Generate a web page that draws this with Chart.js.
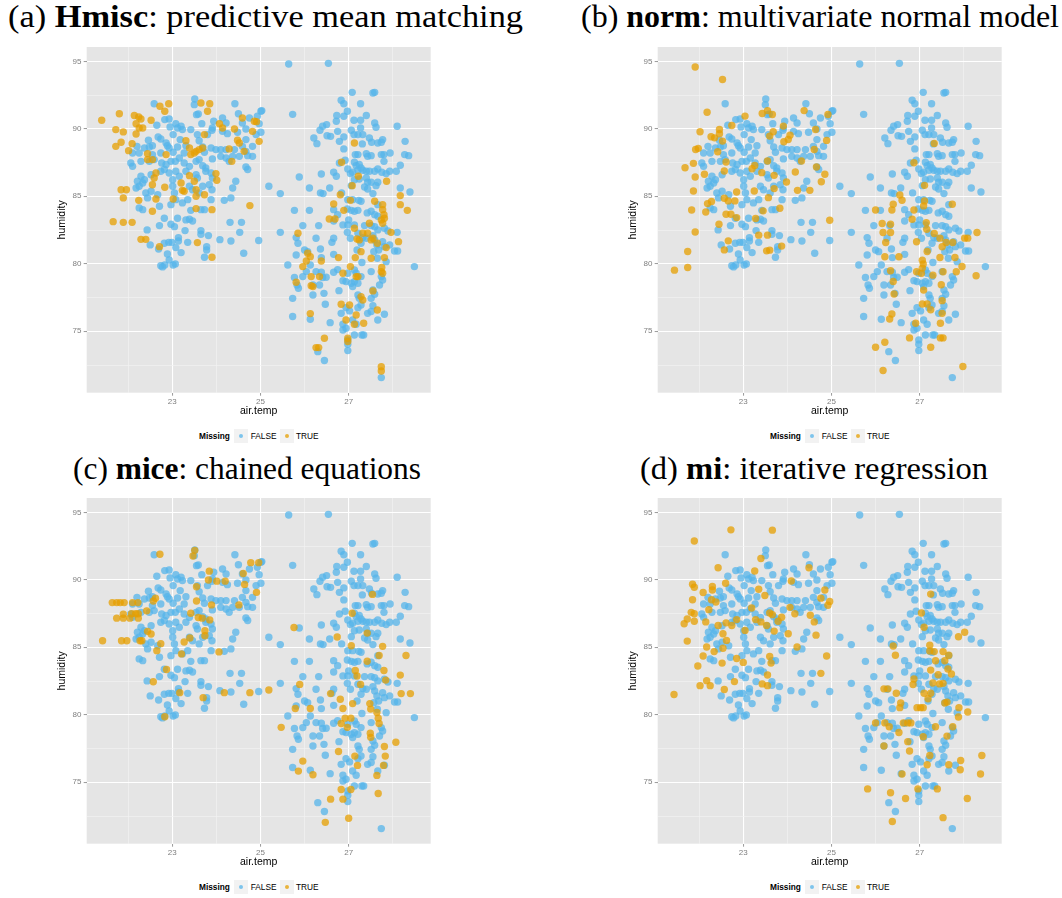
<!DOCTYPE html>
<html>
<head>
<meta charset="utf-8">
<script src="https://cdn.jsdelivr.net/npm/chart.js@4.4.0/dist/chart.umd.min.js"></script>
<style>
  body { margin: 0; background: #fff; width: 1062px; height: 898px; position: relative; overflow: hidden; }
  .title { position: absolute; font-family: "Liberation Serif", serif; font-size: 31px; line-height: 1; white-space: nowrap; color: #000; transform-origin: 0 50%; }
  .panel-canvas { position: absolute; }
  .lg { position: absolute; height: 14px; line-height: 14px; font-family: "Liberation Sans", Arial, sans-serif; font-size: 8.3px; color: #000; white-space: nowrap; }
  .lg-box { position: absolute; width: 14px; height: 14px; background: #F2F2F2; }
  .lg-dot { position: absolute; left: 4.8px; top: 4.8px; width: 4.4px; height: 4.4px; border-radius: 50%; }
</style>
</head>
<body>
<script>
// tick values (minor ones only get a faint grid line)
const xMajor = [23, 25, 27];
const xMinor = [22, 24, 26, 28];
const yMajor = [75, 80, 85, 90, 95];
const yMinor = [72.5, 77.5, 82.5, 87.5, 92.5];

const panelTitles = [
  ["(a) ", "Hmisc", ": predictive mean matching"],
  ["(b) ", "norm", ": multivariate normal model"],
  ["(c) ", "mice", ": chained equations"],
  ["(d) ", "mi", ": iterative regression"]
];

// observed rows (Missing = FALSE), [air.temp, humidity], same in every panel
const observed = [
  [22.59,91.86],[23.51,92.21],[23.50,91.79],[23.55,91.05],[23.59,91.10],[24.42,91.86],[24.50,91.12],[22.83,90.68],[22.93,90.73],[22.65,90.26],
  [23.08,90.38],[23.12,90.06],[23.20,90.19],[23.23,89.94],[22.95,90.14],[23.42,89.94],[23.67,90.38],[23.94,90.56],[23.91,90.06],[24.14,90.80],
  [24.22,90.43],[24.59,90.43],[24.75,90.80],[24.93,90.93],[25.01,91.30],[24.67,89.99],[24.97,90.38],
  [22.46,89.15],[22.68,89.40],[22.74,89.25],[23.02,89.57],[23.57,89.57],[23.61,89.12],[23.80,89.57],[23.90,89.89],[24.14,89.81],[24.25,89.64],
  [24.48,89.74],[24.67,89.20],[24.90,89.57],[25.01,89.74],
  [22.20,88.70],[22.37,88.58],[22.48,88.65],[22.55,88.75],[22.86,88.95],[22.89,88.75],[22.93,88.58],[23.12,88.65],[23.31,88.75],[23.18,89.20],
  [23.69,88.65],[23.88,88.58],[23.99,88.46],[24.10,88.46],[24.22,88.46],[24.41,88.46],[24.59,88.70],[24.67,88.33],[24.82,88.70],
  [22.10,88.21],[22.25,88.21],[22.55,88.09],[22.59,87.72],[22.48,87.59],[22.74,88.21],[23.02,88.26],[23.16,87.84],[23.27,88.21],[23.73,88.26],
  [23.61,87.72],[23.54,87.59],[23.91,87.77],[24.10,87.96],[24.22,87.84],[24.37,87.96],[24.52,87.96],[24.71,88.01],[24.82,87.96],
  [22.06,87.47],[22.10,87.22],[22.29,87.59],[22.76,87.47],[22.86,87.35],[22.97,87.59],[23.07,87.59],[23.27,87.47],[23.39,87.22],[23.69,87.27],
  [23.76,87.10],[24.29,87.59],[24.67,87.17],[24.71,86.98],
  [22.52,86.60],[22.29,86.48],[22.37,86.23],[22.21,86.11],[22.74,86.85],[22.82,86.98],[22.93,86.73],[23.08,86.85],[23.31,86.85],[23.54,86.60],
  [23.57,86.36],[23.76,86.85],[23.88,86.73],[23.91,86.36],[23.01,86.23],[23.16,86.48],
  [22.18,85.62],[22.25,85.74],[22.33,85.99],[22.52,85.37],[22.40,85.25],[22.44,84.88],[22.67,85.12],[23.01,85.74],[23.05,85.25],[23.08,84.75],
  [23.39,85.74],[23.46,85.49],[23.61,85.25],[23.69,85.74],[23.84,85.86],[23.90,85.49],[23.88,84.75],[24.37,85.62],[24.44,86.11],[24.18,84.70],
  [24.33,84.88],
  [22.25,84.14],[22.33,84.01],[22.71,84.26],[22.97,84.38],[23.23,84.51],[23.35,84.75],[23.65,84.01],[23.73,84.01],[23.42,83.96],
  [22.82,83.37],[23.12,83.37],[23.31,83.25],[23.39,83.30],[23.46,83.17],[22.97,82.93],[23.05,82.75],[22.71,82.83],[22.43,82.51],[23.29,82.46],
  [23.65,82.46],[23.65,82.19],[23.82,82.09],[24.31,83.07],[24.57,83.07],[24.53,82.33],[23.14,81.94],[23.14,81.69],[23.35,81.59],[24.08,81.79],
  [24.33,81.69],[24.96,81.72],[22.50,81.40],[22.82,81.52],[22.92,81.59],[22.99,81.59],[23.08,81.20],[23.20,80.83],[22.89,80.73],[22.69,81.10],
  [23.78,81.27],[23.78,81.02],[24.62,80.78],[23.73,80.48],[22.93,80.28],[22.74,79.86],[22.78,79.77],[22.83,79.91],[23.02,79.91],[23.07,79.99],
  [25.64,94.80],[26.54,94.85],[27.08,92.70],[27.55,92.65],[27.59,92.70],[27.27,91.86],[26.83,92.11],[26.89,91.86],[25.03,91.35],[25.73,91.07],
  [26.73,90.98],[26.89,90.93],[26.97,91.30],[27.40,90.98],[27.12,90.63],[27.27,90.63],[26.72,90.56],[26.50,90.31],[26.41,90.19],[26.35,89.89],
  [27.59,90.43],[27.62,90.11],[28.10,90.19],
  [26.21,89.32],[26.28,88.90],[26.51,89.49],[26.59,89.44],[26.75,89.81],[26.79,89.07],[26.89,89.40],[27.06,89.89],[27.12,89.57],[27.21,89.57],
  [27.32,89.57],[27.27,90.06],[27.47,89.32],[27.52,89.00],[27.66,88.95],[27.74,89.00],[27.77,89.20],[27.31,88.88],[28.28,89.07],
  [26.89,88.51],[27.15,88.09],[27.21,88.09],[27.40,88.16],[27.43,87.96],[27.51,88.01],[27.74,88.09],[27.80,88.09],[27.94,88.21],[28.27,88.09],
  [28.36,88.01],[26.92,87.67],[26.79,87.47],[27.80,87.59],[27.13,87.52],[27.17,87.27],[27.24,87.35],[27.28,87.10],
  [26.98,87.02],[27.04,86.68],[27.09,86.78],[27.21,86.93],[27.32,86.93],[27.40,86.85],[27.47,86.85],[27.59,86.85],[27.66,87.02],[27.75,86.78],
  [27.85,86.68],[27.93,86.85],[28.08,86.85],[28.17,87.30],[26.66,86.78],[26.72,86.48],[26.38,86.65],[25.88,86.43],
  [27.13,86.23],[27.24,86.28],[27.40,86.36],[27.43,86.04],[27.51,86.04],[27.66,86.04],[27.06,85.79],[27.36,85.69],[27.43,85.54],[27.62,85.79],
  [25.19,85.74],[25.45,85.20],[26.11,85.62],[26.36,85.25],[26.42,85.20],[26.57,85.62],[26.84,85.25],[27.55,85.20],[28.17,85.62],[28.39,85.32],
  [26.98,84.75],[27.09,84.75],[27.23,84.70],[27.28,84.63],[27.66,84.38],[25.77,83.96],[26.11,83.96],[26.66,84.01],[26.75,83.64],[26.97,84.06],
  [27.06,83.96],[27.13,83.89],[27.21,83.96],[27.42,83.77],[27.51,83.89],[27.59,83.64],[27.66,83.52],
  [26.66,83.17],[26.87,82.88],[26.98,82.88],[27.13,82.88],[27.00,83.25],[27.36,82.83],[27.51,82.83],[27.59,82.75],[27.66,82.51],[27.81,82.63],
  [27.89,82.43],[26.97,82.33],[27.04,81.89],[27.21,82.26],[27.32,81.94],[27.40,81.89],[27.28,81.52],[27.19,81.02],[27.55,82.09],[27.59,81.77],
  [27.64,81.40],[27.68,81.02],[27.57,80.90],[27.77,81.64],[27.81,81.27],[27.93,81.40],[28.04,80.95],[28.11,80.95],[28.10,82.33],
  [25.96,82.83],[26.32,82.83],[25.45,82.33],[25.81,81.94],[25.85,81.52],[26.26,81.89],[26.62,81.59],[26.66,81.89],[26.00,81.02],[26.07,80.90],
  [26.13,79.91],[26.04,79.42],[25.96,79.05],[26.36,81.10],[26.38,80.46],[25.81,80.65],[26.66,80.70],[25.62,79.91],[26.26,79.42],[26.38,79.37],
  [26.66,79.37],[26.75,79.57],
  [25.77,78.98],[25.83,78.43],[25.86,78.19],[26.19,78.43],[26.19,77.69],[26.34,78.43],[26.41,78.98],[26.49,79.00],[26.44,77.81],[26.78,78.01],
  [26.87,78.75],[26.94,78.68],[27.06,78.56],[27.13,78.68],[27.09,78.31],[27.21,78.56],[26.98,79.30],[27.13,79.54],[27.17,79.30],[27.28,79.05],
  [27.30,80.09],[27.51,79.42],[27.65,80.41],[27.85,80.16],[27.70,78.43],[27.77,78.80],[27.74,79.05],[27.55,78.06],[27.59,77.74],[27.51,77.44],
  [27.21,77.69],[27.24,77.44],[27.28,76.95],[27.21,76.75],[28.49,79.79],
  [25.73,77.44],[25.73,76.09],[26.13,75.89],[26.47,77.00],[26.83,76.33],[26.94,76.75],[27.02,76.51],[27.43,76.33],[27.51,76.46],[27.55,76.90],
  [27.81,76.26],[27.66,75.84],[27.09,75.84],[27.17,75.52],[26.87,75.52],[26.87,75.10],[26.94,75.22],[26.58,75.64],[27.13,74.73],[27.30,74.73],
  [27.34,74.73],[26.98,74.36],[26.98,74.04],[26.98,73.57],[26.30,73.49],[26.45,72.83],[27.74,71.57]
];

// imputed rows (Missing = TRUE), one list per method
const hmiscImputed = [
  [21.40,90.63],[21.80,91.12],[22.14,90.98],[22.24,90.88],[22.29,90.73],[22.18,90.38],[22.25,90.06],[22.33,90.06],[22.52,90.63],[22.72,91.67],
  [22.83,91.30],[22.92,91.86],[21.72,89.94],[21.89,89.77],[22.18,89.62],[21.84,89.00],[21.72,88.70],[22.09,88.90],[22.01,88.38],[22.44,88.16],
  [22.44,87.72],[22.55,87.72],[22.86,88.09],[23.31,89.12],[23.39,88.58],[23.42,88.09],[23.50,88.21],[23.54,88.33],[23.61,88.46],[23.69,88.58],
  [23.73,89.57],[23.65,91.91],[23.85,91.86],[23.80,91.30],[24.07,90.38],[24.14,90.06],[24.59,90.80],[24.86,90.56],[24.91,90.53],[24.41,89.99],
  [24.82,89.81],[24.48,89.15],[24.52,88.95],[24.97,89.07],[24.63,88.33],[24.29,88.51],[24.35,87.59],[22.63,86.73],[22.59,86.36],[22.55,85.86],
  [22.83,85.67],[23.39,86.53],[23.20,85.99],[23.23,85.44],[23.27,85.37],[23.50,86.11],[23.54,85.49],[23.54,85.00],[23.73,85.12],[23.99,86.68],
  [24.01,86.19],[21.84,85.49],[21.96,85.49],[21.89,84.88],[22.24,84.70],[22.63,84.80],[23.02,84.80],[23.54,84.09],[23.90,84.01],[22.55,83.89],
  [24.76,84.31],[21.66,83.12],[21.89,83.07],[22.09,83.07],[22.29,81.81],[22.40,81.81],[22.71,81.27],[23.57,81.57],[23.90,80.48],
  [27.13,88.95],[26.84,87.52],[27.22,86.48],[27.08,85.79],[27.86,86.11],[26.81,85.12],[28.17,85.05],[27.59,84.63],[27.77,84.38],[26.66,84.43],
  [27.04,84.70],[26.89,83.96],[28.17,84.38],[28.33,83.96],[27.77,84.01],[27.80,83.64],
  [26.56,83.32],[26.69,83.32],[25.85,82.26],[27.13,82.63],[27.32,82.26],[27.47,83.00],[27.77,83.00],[27.74,83.25],[27.81,83.37],[27.19,81.84],
  [27.24,81.77],[27.43,82.26],[27.51,81.77],[27.55,81.89],[27.65,81.52],[27.85,81.20],[28.13,81.64],[27.96,82.33],[27.28,80.90],[27.51,80.41],
  [27.81,80.46],[27.15,80.46],[26.07,80.78],[26.13,80.53],[26.04,80.21],[25.96,79.79],[26.38,80.21],[26.77,80.46],[27.04,79.79],[26.87,79.30],
  [27.74,79.42],[27.77,79.30],[27.75,79.72],[26.15,79.05],[26.34,79.05],[27.17,79.05],[27.21,79.05],[25.81,78.63],[26.15,78.38],[26.19,78.31],
  [27.55,77.99],[27.28,77.57],[27.32,77.32],[26.83,77.00],[27.02,76.95],[27.65,76.58],[26.13,76.31],[27.17,76.21],[26.94,75.84],[27.13,75.52],
  [27.34,75.59],[26.45,74.48],[26.98,74.48],[26.98,74.24],[26.26,73.79],[26.32,73.79],[27.74,72.38],[27.74,72.06]
];

const normImputed = [
  [21.91,94.58],[22.53,93.65],[22.18,91.23],[22.02,89.78],[22.46,89.95],[22.46,89.63],[22.27,89.41],[22.35,89.33],[22.53,89.09],[21.92,88.47],
  [21.98,88.55],[21.87,87.44],[21.68,87.12],[21.91,86.43],[21.87,85.39],[22.12,86.63],[22.42,88.30],[22.61,87.54],[22.57,86.87],[22.74,90.25],
  [23.04,90.94],[23.43,91.13],[23.55,91.35],[23.66,91.06],[23.91,90.20],[23.68,89.78],[23.60,89.46],[24.06,89.53],[24.02,89.21],[23.92,89.04],
  [24.38,91.35],[24.64,89.95],[24.92,91.06],[24.89,89.14],[24.61,88.47],[24.66,87.17],[24.85,86.63],[24.77,86.08],[24.32,87.61],[24.18,86.80],
  [23.98,86.06],[23.55,87.61],[23.26,87.29],[23.20,87.04],[23.42,86.75],[23.70,86.55],[23.70,85.57],[23.57,84.90],[23.25,85.39],[22.85,85.32],
  [22.57,84.85],[22.66,84.66],[22.81,84.66],[24.23,85.44],[24.51,85.44],[22.28,84.61],[22.19,84.46],[21.83,83.99],[22.15,83.84],[22.61,83.67],
  [22.72,83.67],[22.85,83.42],[22.45,82.93],[21.91,82.36],[23.45,83.92],[23.83,84.11],[23.28,83.35],[24.96,83.23],[23.35,82.12],[23.55,82.12],
  [22.66,81.70],[22.57,81.03],[23.87,81.31],[23.53,80.96],[23.60,81.01],[21.74,80.91],[21.74,79.73],[21.44,79.53],
  [26.00,83.99],[26.40,84.41],[26.37,83.99],[26.55,85.10],[26.60,84.71],[26.87,83.99],[26.83,83.30],[26.15,82.98],[26.34,82.93],[27.11,84.66],
  [27.09,84.29],[27.74,84.41],[27.15,83.05],[27.16,82.56],[27.33,82.24],[27.46,81.90],[27.51,81.26],[27.60,81.58],[27.75,81.58],[28.02,81.90],
  [28.09,81.90],[28.30,82.32],[26.17,82.32],[26.23,81.58],[26.34,82.32],[26.93,81.63],[27.17,80.91],[27.46,80.47],[27.80,80.47],[27.96,79.80],
  [28.28,79.11],[27.06,80.27],[27.08,79.98],[27.06,79.68],[27.04,79.29],[26.93,79.41],[27.30,79.16],[27.53,79.41],[27.83,79.41],[26.21,80.52],
  [26.53,80.52],[26.34,79.48],[26.40,78.69],[26.42,77.76],[26.87,87.49],[27.11,85.81],[27.33,88.92],[27.09,78.05],[27.49,78.45],[27.51,77.27],
  [27.06,77.02],[27.17,77.02],[27.25,76.60],[27.51,76.33],[26.91,75.59],[27.47,75.59],[26.37,76.28],[26.32,75.91],[26.77,74.51],[26.21,74.19],
  [26.00,73.82],[27.25,73.82],[27.47,74.51],[27.53,74.51],[27.98,72.39],[26.17,72.09]
];

const miceImputed = [
  [22.72,91.89],[23.51,92.18],[23.47,91.76],[24.78,91.27],[24.96,91.27],[24.61,90.47],[23.84,90.64],[24.01,89.90],[24.20,89.90],[23.82,89.98],
  [24.64,89.66],[24.91,89.07],[23.55,89.49],[23.55,88.43],[23.42,87.52],[23.59,87.21],[23.68,87.16],[23.85,87.03],[23.89,88.14],[24.51,88.14],
  [23.74,86.23],[23.74,85.86],[23.40,85.69],[23.27,85.39],[23.21,84.51],[24.06,84.66],[21.64,88.31],[21.74,88.31],[21.82,88.31],[21.91,88.31],
  [22.10,88.31],[22.22,88.31],[22.62,88.63],[22.57,88.43],[22.42,87.70],[21.89,87.45],[22.08,87.48],[22.17,87.48],[22.23,87.48],[21.74,87.16],
  [21.89,87.16],[22.04,87.16],[22.23,87.16],[21.42,85.49],[21.85,85.49],[21.97,85.49],[22.27,85.49],[22.31,85.49],[22.44,86.18],[22.52,85.98],
  [22.74,85.27],[22.65,84.75],[22.87,83.36],[22.57,82.45],[23.17,81.64],[23.70,81.27],[22.83,79.85],[24.18,81.64],[24.76,81.64],[25.19,81.84],
  [25.76,86.47],[25.89,82.25],[25.79,80.47],[25.47,79.07],[26.13,80.47],[26.59,81.57],[26.81,81.15],[26.74,85.76],[26.87,80.47],[26.83,79.36],
  [26.92,79.75],[27.05,79.75],[26.97,79.07],[27.09,80.83],[27.08,87.52],[27.06,85.12],[27.15,83.28],[27.19,82.87],[27.42,83.97],[27.27,82.25],
  [27.54,88.92],[27.42,86.05],[27.77,85.07],[27.69,84.39],[27.80,83.28],[27.84,82.57],[28.17,82.94],[28.30,84.39],[28.19,81.57],[28.40,81.57],
  [27.48,80.83],[27.50,80.42],[27.64,80.17],[27.67,79.75],[27.69,79.36],[27.49,78.63],[27.50,78.33],[27.81,77.65],[27.83,76.94],[27.79,76.25],
  [27.64,75.51],[28.07,77.97],[27.14,76.94],[27.20,76.25],[26.77,77.28],[25.96,76.57],[25.86,75.83],[26.19,75.56],[26.83,74.46],[27.05,74.46],
  [26.59,73.75],[26.87,73.75],[27.67,74.17],[27.00,72.33],[26.47,72.03]
];

const miImputed = [
  [22.72,93.70],[23.66,93.68],[21.89,92.87],[22.43,90.89],[23.40,91.58],[23.26,90.65],[24.49,90.89],[21.85,89.67],[21.89,89.45],[22.09,89.06],
  [22.30,89.50],[22.30,89.25],[22.60,89.74],[22.28,88.52],[22.38,88.35],[21.85,88.52],[21.82,87.59],[21.89,87.49],[21.73,87.10],[21.66,86.74],
  [21.89,86.93],[22.15,86.88],[22.22,87.79],[21.73,85.46],[22.17,85.02],[22.09,84.36],[21.97,83.61],[22.34,84.68],[22.52,83.83],[22.54,84.93],
  [22.54,86.00],[22.62,85.51],[22.43,86.61],[22.61,86.81],[22.74,86.61],[22.85,87.05],[23.04,86.25],[23.19,87.91],[23.28,87.05],[23.40,86.88],
  [23.53,86.61],[23.66,87.42],[23.70,86.20],[23.49,88.84],[23.35,89.30],[23.60,87.54],[23.87,87.23],[23.79,86.93],[24.02,86.00],[24.06,87.96],
  [24.17,87.49],[24.09,89.91],[24.22,85.02],[24.52,87.37],[24.61,86.88],[24.65,85.90],[24.76,88.64],[24.85,89.25],[24.96,88.40],[24.92,88.11],
  [24.89,84.36],[24.76,83.07],[22.85,84.17],[23.00,83.88],[23.60,84.32],[23.63,83.83],[23.55,82.95],[23.43,82.29],[23.55,82.16],[22.80,82.46],
  [22.57,81.87],[22.17,82.53],[22.02,82.16],[22.25,82.16],[21.43,81.50],
  [26.40,85.10],[26.45,84.41],[27.04,87.54],[27.10,86.49],[27.25,88.94],[27.23,85.15],[27.23,84.73],[27.33,84.68],[27.36,84.00],[27.53,84.68],
  [27.66,84.41],[27.57,84.00],[27.64,83.39],[27.72,83.02],[27.88,85.78],[28.02,86.12],[27.25,83.31],[27.42,82.97],[27.30,82.36],[26.87,82.65],
  [26.85,82.24],[27.45,82.29],[27.53,82.33],[27.10,81.60],[27.25,81.60],[27.19,81.19],[27.57,80.87],[27.62,80.94],[27.89,80.53],[28.09,80.21],
  [27.88,79.84],[26.19,81.92],[26.28,81.92],[26.47,81.60],[26.57,80.87],[26.55,80.53],[26.94,80.53],[27.02,80.53],[27.08,80.53],[26.63,79.40],
  [26.73,79.40],[26.80,79.40],[26.00,79.40],[26.21,79.40],[26.31,79.11],[26.53,78.69],[26.19,77.69],[26.73,78.01],[26.77,77.32],[27.08,78.37],
  [27.36,79.11],[27.62,78.42],[27.75,79.11],[27.23,76.98],[27.17,76.30],[27.66,76.30],[27.93,76.61],[27.92,75.93],[28.41,76.98],[28.38,75.61],
  [26.60,75.61],[25.82,74.51],[26.34,74.22],[26.68,73.80],[26.96,74.51],[27.40,74.51],[28.08,73.80],[27.53,72.38],[26.38,72.09]
];

const imputedByPanel = [hmiscImputed, normImputed, miceImputed, miImputed];

const BLUE = "rgba(86,180,233,0.75)";
const ORANGE = "rgba(230,159,0,0.75)";
const panelOffsets = [[0, 0], [571, 0], [0, 451], [571, 451]];
// where each caption starts and how wide it is in the figure
const titleLeft = [8.3, 580.7, 73.3, 640];
const titleWidth = [515, 478, 348, 348];
const titleTop = [0.8, 0.8, 452.7, 452.7];

// grey panel behind the grid, like theme_grey
const panelBackground = {
  id: "panelBackground",
  beforeDraw(chart) {
    const { ctx, chartArea: a } = chart;
    ctx.save();
    ctx.fillStyle = "#E5E5E5";
    ctx.fillRect(a.left, a.top, a.right - a.left, a.bottom - a.top);
    ctx.restore();
  }
};

function isMajor(list, v) {
  return list.some(m => Math.abs(m - v) < 1e-9);
}

function gridFor(major) {
  return {
    color: c => (c.tick && isMajor(major, c.tick.value)) ? "#FFFFFF" : "#F2F2F2",
    lineWidth: c => (c.tick && isMajor(major, c.tick.value)) ? 1.1 : 0.7,
    tickColor: c => (c.tick && isMajor(major, c.tick.value)) ? "#7F7F7F" : "rgba(0,0,0,0)",
    tickWidth: 0.8,
    tickLength: 3,
    drawTicks: true
  };
}

function addTitle(i) {
  const t = panelTitles[i];
  const div = document.createElement("div");
  div.className = "title";
  div.style.left = titleLeft[i] + "px";
  div.style.top = titleTop[i] + "px";
  div.innerHTML = t[0] + "<b>" + t[1] + "</b>" + t[2];
  document.body.appendChild(div);
  // stretch to the caption width of the original figure
  const w = div.getBoundingClientRect().width;
  div.style.transform = "scaleX(" + (titleWidth[i] / w) + ")";
}

function addLegend(i) {
  const [ox, oy] = panelOffsets[i];
  const top = oy + 429;
  const parts = [
    { html: "<b>Missing</b>", left: 199 },
    { box: BLUE, left: 234.3 },
    { html: "FALSE", left: 250.7 },
    { box: ORANGE, left: 280 },
    { html: "TRUE", left: 296 }
  ];
  parts.forEach(p => {
    const el = document.createElement("div");
    if (p.box) {
      el.className = "lg-box";
      const dot = document.createElement("div");
      dot.className = "lg-dot";
      dot.style.background = p.box;
      el.appendChild(dot);
    } else {
      el.className = "lg";
      el.innerHTML = p.html;
    }
    el.style.left = (ox + p.left) + "px";
    el.style.top = top + "px";
    document.body.appendChild(el);
  });
}

function makePanel(i) {
  const [ox, oy] = panelOffsets[i];
  const canvas = document.createElement("canvas");
  canvas.className = "panel-canvas";
  canvas.width = 440;
  canvas.height = 380;
  canvas.style.width = "440px";
  canvas.style.height = "380px";
  canvas.style.left = ox + "px";
  canvas.style.top = (oy + 40) + "px";
  document.body.appendChild(canvas);

  const tickFont = { family: "Liberation Sans", size: 8 };
  const titleFont = { family: "Liberation Sans", size: 10.5 };

  new Chart(canvas, {
    type: "scatter",
    data: {
      datasets: [
        {
          label: "TRUE",
          data: imputedByPanel[i].map(p => ({ x: p[0], y: p[1] })),
          backgroundColor: ORANGE,
          borderWidth: 0,
          pointRadius: 3.7,
          order: 0
        },
        {
          label: "FALSE",
          data: observed.map(p => ({ x: p[0], y: p[1] })),
          backgroundColor: BLUE,
          borderWidth: 0,
          pointRadius: 3.7,
          order: 1
        }
      ]
    },
    options: {
      responsive: false,
      animation: false,
      devicePixelRatio: 1,
      layout: { padding: { left: 0, right: 9.3, top: 6.7, bottom: 0 } },
      plugins: { legend: { display: false }, tooltip: { enabled: false } },
      scales: {
        x: {
          type: "linear",
          min: 21.06,
          max: 28.86,
          afterBuildTicks: s => { s.ticks = xMinor.concat(xMajor).sort((a, b) => a - b).map(v => ({ value: v })); },
          afterFit: s => { s.height = 27.3; },
          border: { display: false },
          grid: gridFor(xMajor),
          ticks: {
            autoSkip: false, maxRotation: 0, padding: 1, color: "#7F7F7F", font: tickFont,
            callback: v => isMajor(xMajor, v) ? String(v) : ""
          },
          title: { display: true, text: "air.temp", color: "#000", font: titleFont, padding: { top: 0, bottom: 2.7 } }
        },
        y: {
          type: "linear",
          min: 70.45,
          max: 96.06,
          afterBuildTicks: s => { s.ticks = yMinor.concat(yMajor).sort((a, b) => a - b).map(v => ({ value: v })); },
          afterFit: s => { s.width = 86.7; },
          border: { display: false },
          grid: gridFor(yMajor),
          ticks: {
            autoSkip: false, padding: 2.2, color: "#7F7F7F", font: tickFont,
            callback: v => isMajor(yMajor, v) ? String(v) : ""
          },
          title: { display: true, text: "humidity", color: "#000", font: titleFont, padding: { top: 55.7, bottom: 0 } }
        }
      }
    },
    plugins: [panelBackground]
  });
}

for (let i = 0; i < 4; i++) {
  addTitle(i);
  makePanel(i);
  addLegend(i);
}
</script>
</body>
</html>
